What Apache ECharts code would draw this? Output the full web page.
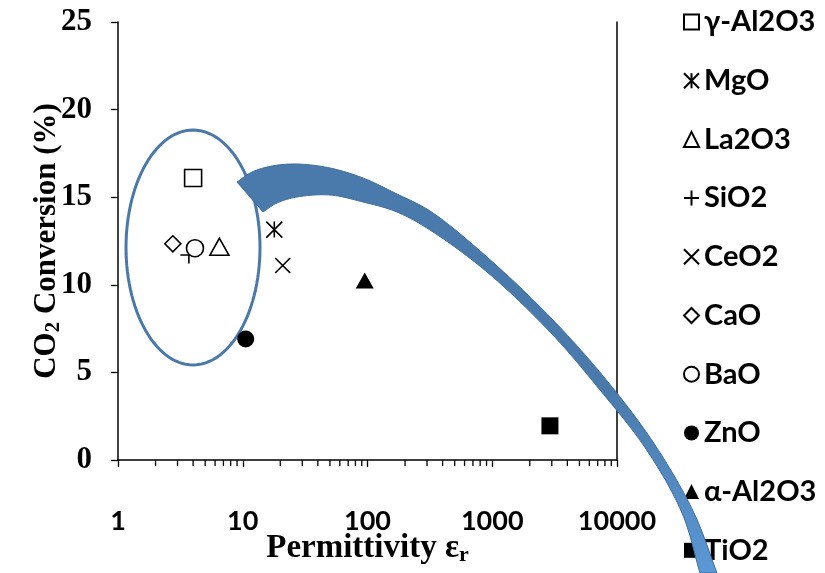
<!DOCTYPE html>
<html><head><meta charset="utf-8">
<script src="https://cdn.jsdelivr.net/npm/echarts@6/dist/echarts.min.js"></script>
<style>html,body{margin:0;padding:0;background:#fff}#c{width:825px;height:573px}</style>
</head><body><div id="c"></div>
<script>
// ---------------- data ----------------
const materials = ['γ-Al2O3','MgO','La2O3','SiO2','CeO2','CaO','BaO','ZnO','α-Al2O3','TiO2'];
const permittivity = [4.0, 17.9, 6.5, 3.7, 20.9, 2.75, 4.14, 10.56, 95, 2900];
const conversion  = [16.1, 13.15, 12.17, 11.7, 11.1, 12.34, 12.09, 6.9, 10.25, 1.95];
const xTickLabels = ['1','10','100','1000','10000'];
const yTickLabels = ['0','5','10','15','20','25'];
const minorTicks = [2,3,4,5,6,7,8,9,20,30,40,50,60,70,80,90,200,300,400,500,600,700,800,900,2000,3000,4000,5000,6000,7000,8000,9000];

// ---------------- marker styles ----------------
const P_AST = 'path://M0,0L10,10M10,0L0,10M5,0L5,10';
const P_PLUS = 'path://M5,0L5,10M0,5L10,5';
const P_CROSS = 'path://M0,0L10,10M10,0L0,10';
const hollow = {color:'#fff', borderColor:'#000', borderWidth:1.6, opacity:1};
const solid = {color:'#000', borderColor:'#000', borderWidth:0, opacity:1};
const lineSym = {color:'#000', borderColor:'#000', borderWidth:1.6, opacity:1};
const styles = [
  {symbol:'rect', size:[17,17], item:hollow},
  {symbol:P_AST, size:[16,16], item:lineSym},
  {symbol:'triangle', size:[19,17], item:hollow},
  {symbol:P_PLUS, size:[17,17], item:lineSym},
  {symbol:P_CROSS, size:[15,15], item:lineSym},
  {symbol:'diamond', size:[16,16], item:hollow},
  {symbol:'circle', size:[17,17], item:hollow},
  {symbol:'circle', size:[17,17], item:solid},
  {symbol:'triangle', size:[18,16], item:solid},
  {symbol:'rect', size:[17,17], item:solid}
];

const series = materials.map((m,i)=>({
  name:m, type:'scatter',
  data:[[permittivity[i], conversion[i]]],
  symbol:styles[i].symbol, symbolSize:styles[i].size,
  itemStyle:styles[i].item, z:3,
  emphasis:{disabled:true}
}));
series.push({
  type:'custom', name:'minor', silent:true, z:2,
  data: minorTicks.map(v=>[v,0]),
  renderItem:function(params, api){
    const p = api.coord([api.value(0), 0]);
    return {type:'line', shape:{x1:p[0], y1:p[1], x2:p[0], y2:p[1]+6}, style:{stroke:'#000', lineWidth:1.3}};
  }
});

// ---------------- annotation helpers (centripetal Catmull-Rom) ----------------
function crSample(pts, n){
  const out=[];
  const d=(a,b)=>Math.pow(Math.hypot(b[0]-a[0],b[1]-a[1]),0.5)||1e-4;
  for(let i=0;i<pts.length-1;i++){
    const p1=pts[i], p2=pts[i+1];
    const p0=i>0?pts[i-1]:[2*p1[0]-p2[0],2*p1[1]-p2[1]];
    const p3=i<pts.length-2?pts[i+2]:[2*p2[0]-p1[0],2*p2[1]-p1[1]];
    const t0=0, t1=t0+d(p0,p1), t2=t1+d(p1,p2), t3=t2+d(p2,p3);
    for(let k=0;k<n;k++){
      const t=t1+(t2-t1)*k/n;
      const L=(a,b,ta,tb)=>[0,1].map(j=>((tb-t)*a[j]+(t-ta)*b[j])/(tb-ta));
      const A1=L(p0,p1,t0,t1), A2=L(p1,p2,t1,t2), A3=L(p2,p3,t2,t3);
      const B1=L(A1,A2,t0,t2), B2=L(A2,A3,t1,t3);
      out.push(L(B1,B2,t1,t2));
    }
  }
  out.push(pts[pts.length-1]);
  return out;
}
const arrowOuter = [[237,182],[252,172],[272,166],[297,164],[330,168],[363,178],[397,194],[430,211],[487,257],[553,320],[608,382],[655,445],[694,513],[717,573]];
const arrowInner = [[700,573],[682,513],[646,449],[600,390],[551,333],[487,272],[430,230],[397,212],[363,202],[330,195],[297,197],[277,203],[263,212]];
const arrowPts = crSample(arrowOuter,12).concat(crSample(arrowInner,12));
const ellPts = [];
for(let k=0;k<120;k++){const a=k/120*Math.PI*2; ellPts.push([193+67*Math.cos(a), 247.5+117.5*Math.sin(a)]);}

const chart = echarts.init(document.getElementById('c'), null, {renderer:'canvas'});
chart.setOption({
  animation:false,
  backgroundColor:'#fff',
  grid:{left:118, right:208, top:22, bottom:113, containLabel:false, outerBoundsMode:'none'},
  xAxis:{
    type:'log', logBase:10, min:1, max:10000,
    axisLine:{lineStyle:{color:'#000', width:1.5}},
    axisTick:{show:true, length:7, lineStyle:{color:'#000', width:1.3}},
    axisLabel:{margin:48, color:'#000', fontFamily:'Lato', fontWeight:'bold', fontSize:27, hideOverlap:false,
      formatter:(v)=>{const i=Math.round(Math.log10(v)); return xTickLabels[i]!==undefined?xTickLabels[i]:'';}},
    splitLine:{show:false}, minorTick:{show:false},
    name:'Permittivity ε{sub|r}', nameLocation:'middle', nameGap:70, nameMoveOverlap:false,
    nameTextStyle:{color:'#000', fontFamily:'Liberation Serif', fontWeight:'bold', fontSize:33,
      rich:{sub:{fontFamily:'Liberation Serif', fontWeight:'bold', fontSize:22, verticalAlign:'bottom', padding:[14,0,0,0]}}}
  },
  yAxis:[{
    type:'value', min:0, max:25, interval:5,
    axisLine:{show:true, lineStyle:{color:'#000', width:1.5}},
    axisTick:{show:true, length:7, lineStyle:{color:'#000', width:1.3}},
    axisLabel:{margin:26, color:'#000', fontFamily:'Liberation Serif', fontWeight:'bold', fontSize:31,
      formatter:(v)=>yTickLabels[Math.round(v/5)]},
    splitLine:{show:false},
    name:'CO{sub|2} Conversion (%)', nameLocation:'middle', nameGap:54, nameRotate:90, nameMoveOverlap:false,
    nameTextStyle:{color:'#000', fontFamily:'Liberation Serif', fontWeight:'bold', fontSize:31,
      rich:{sub:{fontFamily:'Liberation Serif', fontWeight:'bold', fontSize:21, verticalAlign:'bottom', padding:[13,0,0,0]}}}
  },{
    type:'value', min:0, max:25, position:'right',
    axisLine:{show:true, lineStyle:{color:'#000', width:1.5}},
    axisTick:{show:false}, axisLabel:{show:false}, splitLine:{show:false}
  }],
  legend:{
    orient:'vertical', left:683, top:7, padding:0, itemWidth:15, itemHeight:15, itemGap:28.7,
    data:materials, selectedMode:false,
    textStyle:{color:'#000', fontFamily:'Lato', fontWeight:'bold', fontSize:29, lineHeight:30}
  },
  graphic:[
    {type:'polygon', z:1, silent:true, shape:{points:ellPts}, style:{fill:'none', stroke:'#4A78A8', lineWidth:3}},
    {type:'polygon', z:100, silent:true, shape:{points:arrowPts},
      style:{fill:{type:'linear', x:0, y:0, x2:0, y2:1, global:false,
        colorStops:[{offset:0,color:'#4A7AAB'},{offset:0.55,color:'#4A7AAB'},{offset:1,color:'#5B98D6'}]},
        stroke:'#3F6E9C', lineWidth:1}}
  ],
  series:series
});
</script></body></html>
